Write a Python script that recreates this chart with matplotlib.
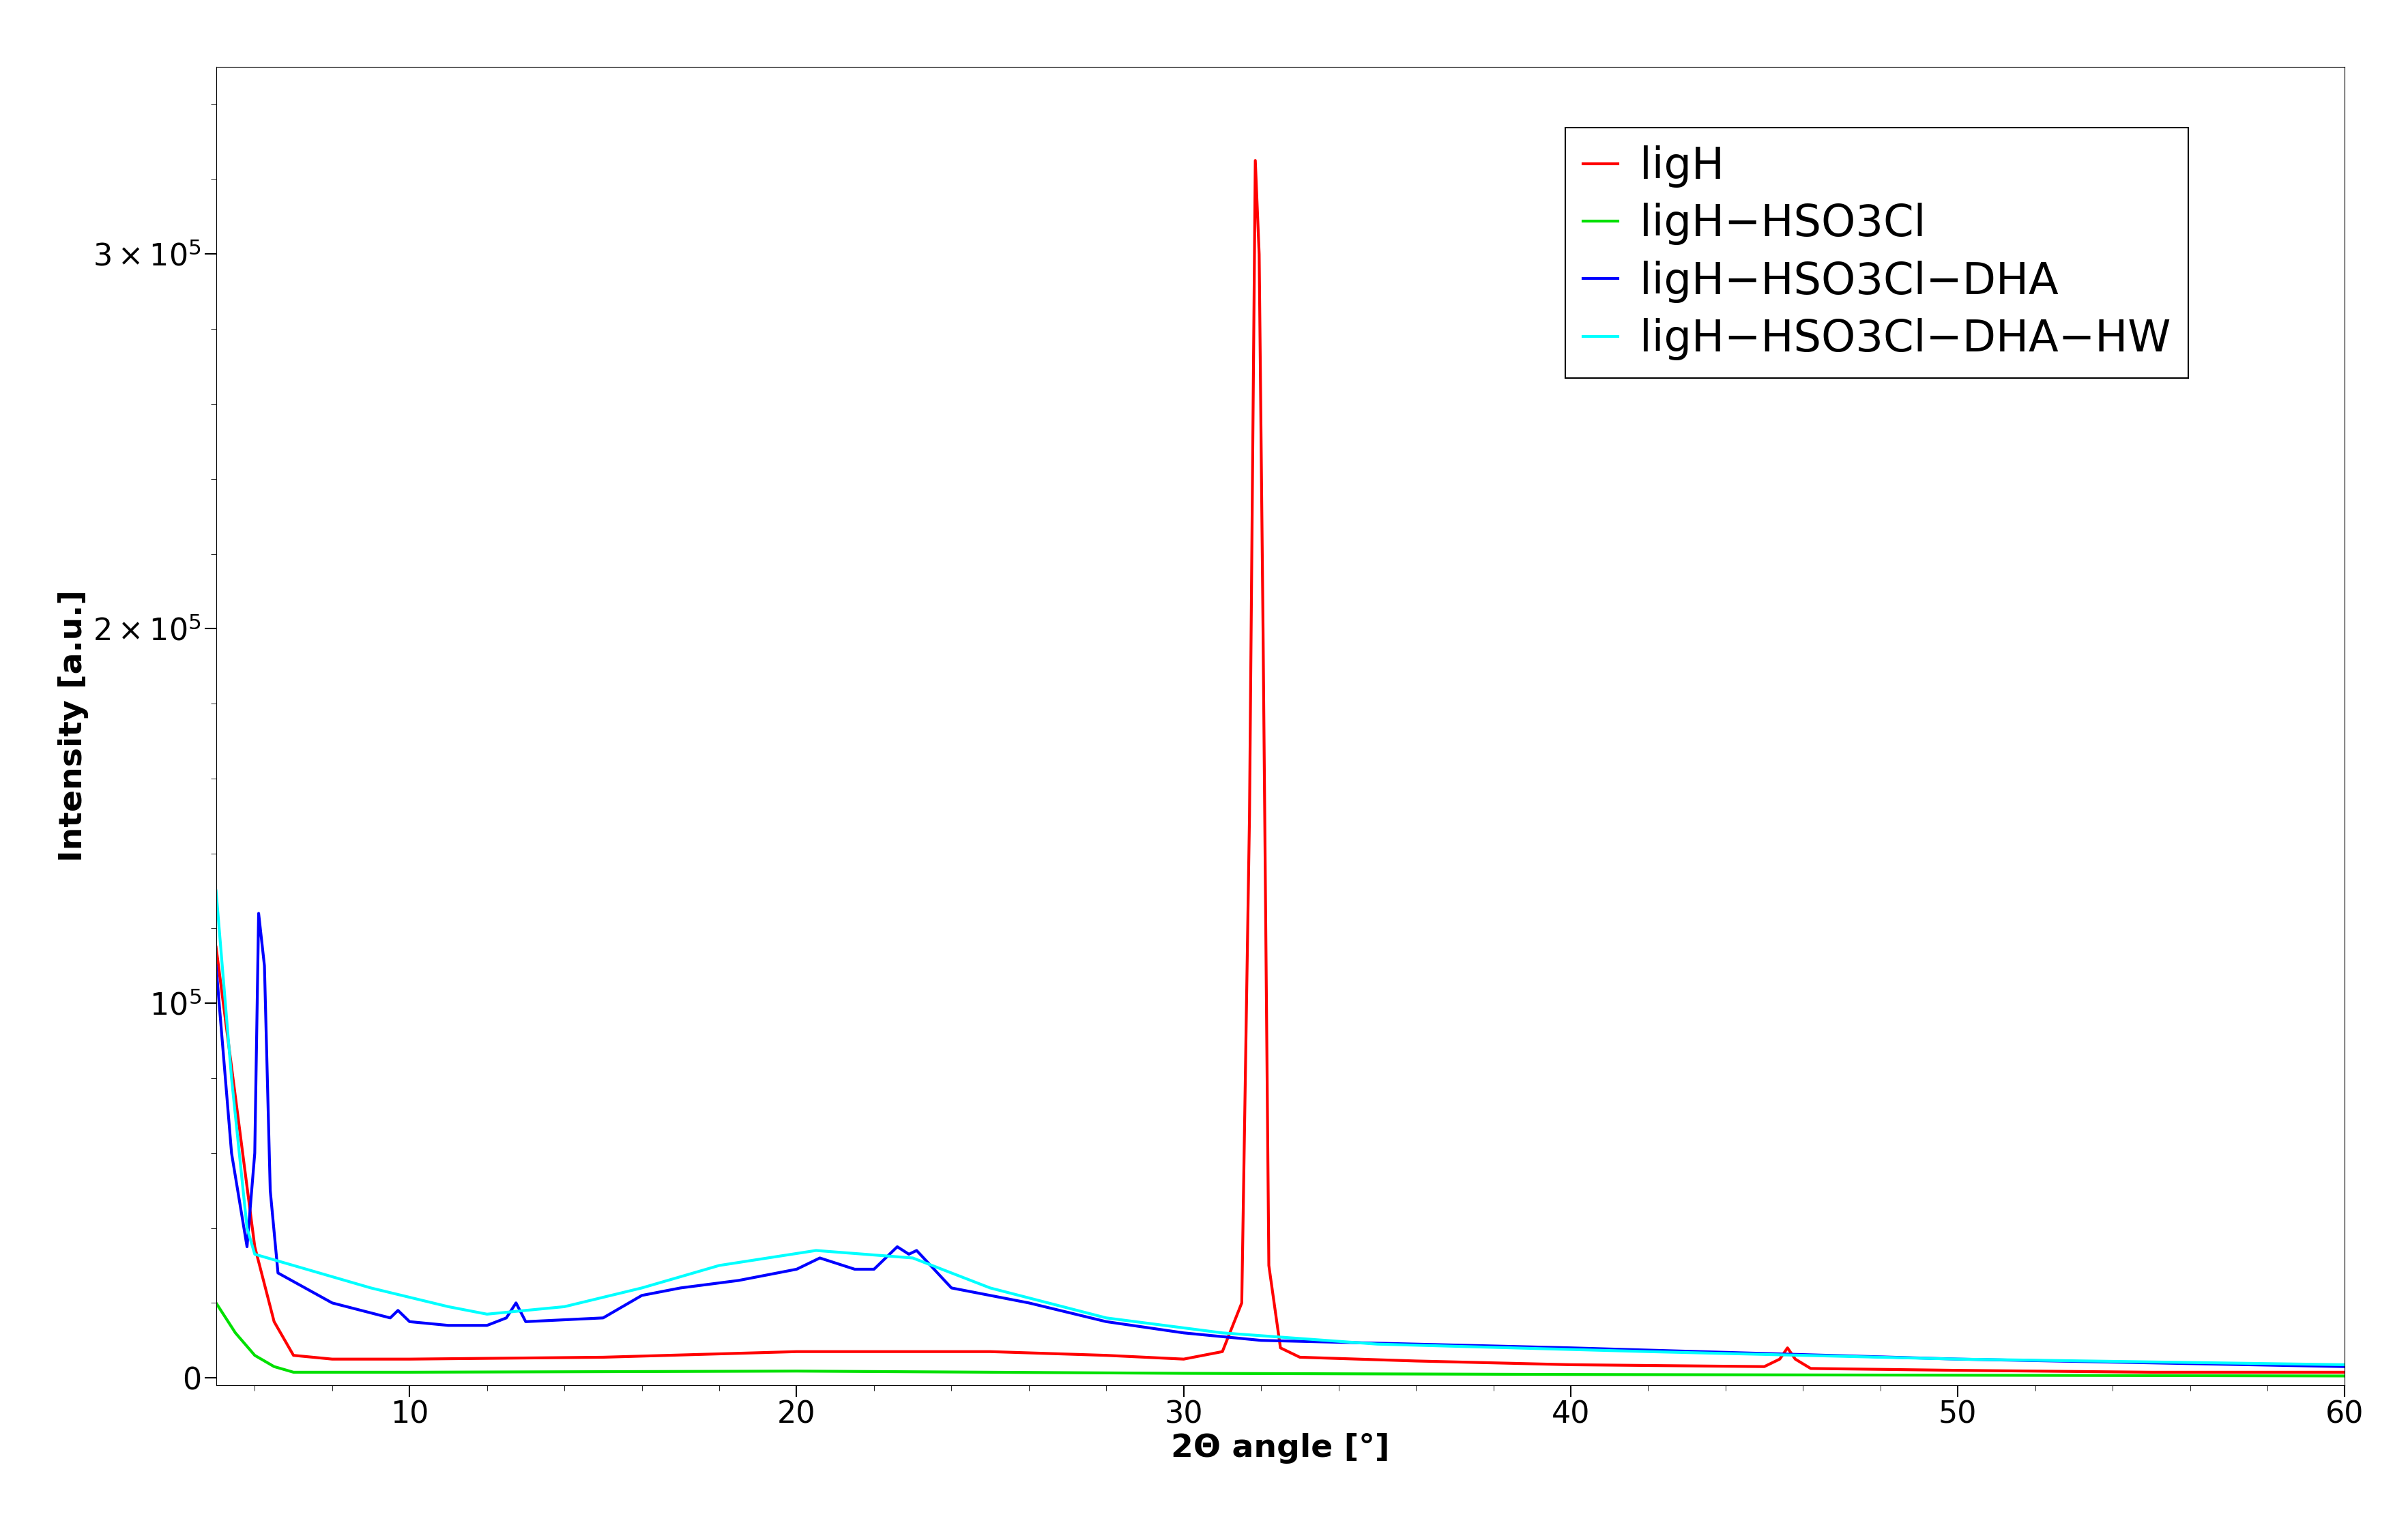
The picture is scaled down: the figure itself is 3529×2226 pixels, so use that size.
import matplotlib
matplotlib.use("Agg")
import matplotlib.pyplot as plt
from matplotlib.ticker import FixedLocator, MultipleLocator

red_x = [5, 5.5, 6, 6.5, 7, 8, 10, 15, 20, 25, 28, 30, 31, 31.5, 31.7, 31.85, 31.95, 32.05, 32.2, 32.5, 33, 36, 40, 45, 45.4, 45.6, 45.8, 46.2, 50, 55, 60]
red_y = [115000, 75000, 35000, 15000, 6000, 5000, 5000, 5500, 7000, 7000, 6000, 5000, 7000, 20000, 150000, 325000, 300000, 200000, 30000, 8000, 5500, 4500, 3500, 3000, 5000, 8000, 5000, 2500, 2000, 1500, 1500]
green_x = [5, 5.5, 6, 6.5, 7, 10, 20, 25, 30, 40, 50, 60]
green_y = [20000, 12000, 6000, 3000, 1500, 1500, 1800, 1500, 1200, 900, 700, 500]
blue_x = [5, 5.4, 5.8, 6.0, 6.1, 6.25, 6.4, 6.6, 8, 9.5, 9.7, 10, 11, 12, 12.5, 12.75, 13, 15, 16, 16.5, 17, 18.5, 20, 20.6, 21.5, 22, 22.6, 22.9, 23.1, 24, 26, 28, 30, 32, 40, 50, 60]
blue_y = [110000, 60000, 35000, 60000, 124000, 110000, 50000, 28000, 20000, 16000, 18000, 15000, 14000, 14000, 16000, 20000, 15000, 16000, 22000, 23000, 24000, 26000, 29000, 32000, 29000, 29000, 35000, 33000, 34000, 24000, 20000, 15000, 12000, 10000, 8000, 5000, 3000]
cyan_x = [5, 5.4, 5.8, 6, 7, 9, 11, 12, 14, 16, 18, 20.5, 23, 25, 28, 31, 35, 42, 50, 60]
cyan_y = [130000, 80000, 40000, 33000, 30000, 24000, 19000, 17000, 19000, 24000, 30000, 34000, 32000, 24000, 16000, 12000, 9000, 7000, 5000, 3500]

fig = plt.figure(figsize=(35.3, 22.26), dpi=100)
ax = fig.add_axes([0.0897, 0.088, 0.8893 - 0.0055, 0.868])
ax.plot(red_x, red_y, color="#ff0000", lw=3, label="ligH")
ax.plot(green_x, green_y, color="#00e000", lw=3, label="ligH\u2212HSO3Cl")
ax.plot(blue_x, blue_y, color="#0000ff", lw=3, label="ligH\u2212HSO3Cl\u2212DHA")
ax.plot(cyan_x, cyan_y, color="#00ffff", lw=3, label="ligH\u2212HSO3Cl\u2212DHA\u2212HW")
ax.set_xlim(5, 60)
ax.set_ylim(-2000, 350000)
ax.xaxis.set_major_locator(MultipleLocator(10))
ax.xaxis.set_minor_locator(MultipleLocator(2))
ax.yaxis.set_major_locator(FixedLocator([0, 1e5, 2e5, 3e5]))
ax.yaxis.set_minor_locator(MultipleLocator(2e4))
ax.set_yticklabels(["0", r"$10^5$", r"$2\times10^5$", r"$3\times10^5$"])
ax.tick_params(labelsize=32, length=12, width=1.5)
ax.tick_params(which="minor", length=6)
ax.set_xlabel("2\u0398 angle [°]", fontsize=34, fontweight="bold")
ax.set_ylabel("Intensity [a.u.]", fontsize=34, fontweight="bold")
leg = ax.legend(loc="upper right", fontsize=46, fancybox=False, edgecolor="black",
                handlelength=0.8, handletextpad=0.5, labelspacing=0.35,
                borderaxespad=1.4, framealpha=1, bbox_to_anchor=(0.955, 1.0))
leg.get_frame().set_linewidth(1.5)
fig.savefig("out.png")
